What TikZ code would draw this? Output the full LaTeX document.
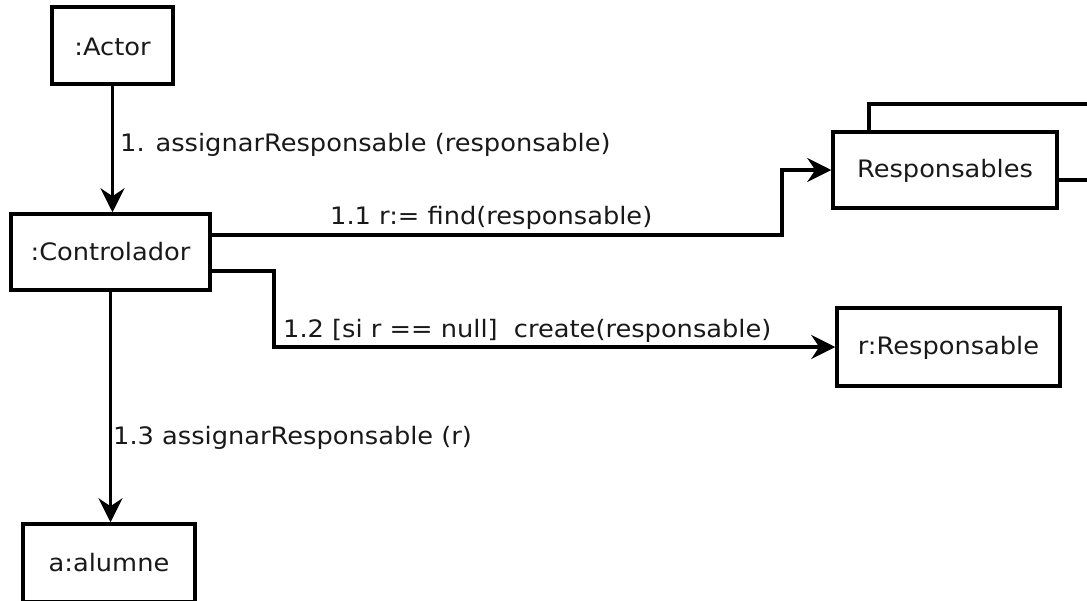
\documentclass[tikz,border=0pt]{standalone}
\usepackage{fontspec}
\setmainfont{DejaVu Sans}[FakeStretch=1.07]
\usetikzlibrary{arrows.meta}
\begin{document}
\begin{tikzpicture}[x=1pt,y=-1pt,
  every node/.style={font=\fontsize{24}{28}\selectfont, text=black!90},
  obj/.style={draw, line width=3.5pt, rectangle, inner sep=0pt},
  msg/.style={line width=3.2pt, -{Stealth[length=24pt,width=24pt,inset=8pt]}},
  lbl/.style={anchor=west, inner sep=0pt}]
\useasboundingbox (0,0) rectangle (1087,600);
\fill[white] (0,0) rectangle (1087,600);
\clip (0,0) rectangle (1087,600);

% collection marker behind the Responsables object
\draw[line width=3.5pt, fill=white] (869,104) rectangle (1093,180);

% objects
\node[obj, minimum width=121pt, minimum height=77pt, text height=21pt] (actor) at (112.5,45.5) {:Actor};
\node[obj, minimum width=199pt, minimum height=76pt] (ctrl) at (110.5,252) {:Controlador};
\node[obj, fill=white, minimum width=224pt, minimum height=76pt, text height=19pt] (resp) at (945,170) {Responsables};
\node[obj, minimum width=223pt, minimum height=78pt, text height=19pt] (rres) at (948.5,347) {r:Responsable};
\node[obj, minimum width=172pt, minimum height=78pt] (alum) at (109,563) {a:alumne};

% bend points of the routed messages
\coordinate (b1) at (782,235);
\coordinate (b2) at (274,271);

% messages
\draw[msg] (actor.south) -- (actor.south |- ctrl.north);
\draw[msg] ([yshift=17pt]ctrl.east) -- (b1) |- (resp.west);
\draw[msg] ([yshift=-19pt]ctrl.east) -- (b2) |- (rres.west);
\draw[msg] (ctrl.south) -- (ctrl.south |- alum.north);

% message labels
\node[lbl] (l1) at (120,145) {1. assignarResponsable (responsable)};
\node[lbl] (l11) at (330,218) {1.1 r:= find(responsable)};
\node[lbl] (l12) at (283,331) {1.2 [si r == null]\ \ create(responsable)};
\node[lbl] (l13) at (113,438) {1.3 assignarResponsable (r)};
\end{tikzpicture}
\end{document}
